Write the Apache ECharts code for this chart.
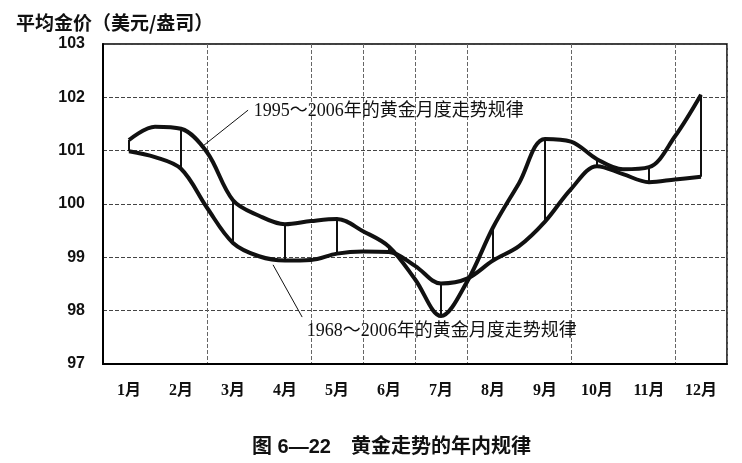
<!DOCTYPE html>
<html>
<head>
    <meta charset="utf-8">
    <script src="https://cdn.jsdelivr.net/npm/echarts@6/dist/echarts.min.js"></script>
    <style>html, body {margin: 0; padding: 0; background: #fff;}</style>
</head>
<body>
<div id="main" style="width: 742px;height:463px;"></div>

<script>
    // 月份标签
    var months = ['1月', '2月', '3月', '4月', '5月', '6月', '7月', '8月', '9月', '10月', '11月', '12月'];
    // 读数位置（1 = 1月中间），每半个月读一次
    var xPos = [1, 1.5, 2, 2.5, 3, 3.5, 4, 4.5, 5, 5.5, 6, 6.5, 7, 7.5, 8, 8.5, 9, 9.5, 10, 10.5, 11, 11.5, 12];
    // 1995~2006年
    var recent = [101.2, 101.45, 101.41, 100.97, 100.07, 99.78, 99.62, 99.68, 99.72, 99.49, 99.2, 98.59,
        97.9, 98.54, 99.56, 100.39, 101.22, 101.17, 100.84, 100.65, 100.69, 101.27, 102.05];
    // 1968~2006年
    var longTerm = [100.99, 100.88, 100.66, 99.93, 99.27, 99.02, 98.94, 98.95, 99.07, 99.11, 99.1, 98.84,
        98.51, 98.6, 98.94, 99.21, 99.67, 100.28, 100.71, 100.56, 100.41, 100.46, 100.51];
    var yTicks = [97, 98, 99, 100, 101, 102, 103];

    var recentData = [], longData = [], links = [];
    for (var i = 0; i < xPos.length; i++) {
        recentData.push([xPos[i], recent[i]]);
        longData.push([xPos[i], longTerm[i]]);
        if (xPos[i] % 1 === 0) {
            links.push([xPos[i], recent[i], longTerm[i]]);
        }
    }

    // 标注：文字起点和引线（数据坐标）
    var notes = [
        {text: '1995～2006年的黄金月度走势规律', at: [3.40, 101.73], from: [3.29, 101.76], to: [2.40, 101.07]},
        {text: '1968～2006年的黄金月度走势规律', at: [4.42, 97.62], from: [4.33, 97.88], to: [3.77, 98.86]}
    ];

    var font = "'Liberation Serif','Noto Sans CJK SC'";
    var gridOn = [2, 4, 5, 6, 7, 9, 11];

    var myChart = echarts.init(document.getElementById('main'));
    var option = {
        animation: false,
        title: [{
            text: '平均金价（美元/盎司）',
            left: 11,
            top: 8,
            textStyle: {fontSize: 19, fontWeight: 'bold', color: '#111', fontFamily: 'Noto Sans CJK SC'}
        }, {
            text: '图 6—22　黄金走势的年内规律',
            left: 247,
            top: 432,
            textStyle: {fontSize: 20, fontWeight: 'bold', color: '#111', fontFamily: "'Liberation Sans','Noto Sans CJK SC'"}
        }],
        grid: {left: 103, top: 44, width: 624, height: 320, show: true, borderColor: '#000', borderWidth: 1.5},
        xAxis: [{
            type: 'category',
            data: months,
            boundaryGap: true,
            axisLine: {lineStyle: {color: '#000', width: 2}},
            axisTick: {inside: true, length: 4, lineStyle: {color: '#000', width: 1.5}},
            axisLabel: {fontSize: 16, fontWeight: 'bold', color: '#111', margin: 19, fontFamily: font},
            splitLine: {
                show: true,
                interval: function (index) {
                    return gridOn.indexOf(index) >= 0;
                },
                lineStyle: {type: 'dashed', color: '#666', width: 1}
            }
        }, {
            type: 'value',
            min: 0.5,
            max: 12.5,
            show: false
        }],
        yAxis: {
            type: 'value',
            min: yTicks[0],
            max: yTicks[yTicks.length - 1],
            interval: 1,
            axisLine: {show: true, lineStyle: {color: '#000', width: 2}},
            axisTick: {show: false},
            axisLabel: {fontSize: 16, fontWeight: 'bold', color: '#111', margin: 18, fontFamily: 'Liberation Sans'},
            splitLine: {lineStyle: {type: 'dashed', color: '#444', width: 1}}
        },
        series: [
            {
                name: '1995～2006年',
                type: 'line',
                xAxisIndex: 1,
                data: recentData,
                smooth: 0.35,
                symbol: 'none',
                lineStyle: {color: '#111', width: 4}
            },
            {
                name: '1968～2006年',
                type: 'line',
                xAxisIndex: 1,
                data: longData,
                smooth: 0.35,
                symbol: 'none',
                lineStyle: {color: '#111', width: 4}
            },
            {
                // 每月竖线
                type: 'custom',
                xAxisIndex: 1,
                data: links,
                renderItem: function (params, api) {
                    var p1 = api.coord([api.value(0), api.value(1)]);
                    var p2 = api.coord([api.value(0), api.value(2)]);
                    return {
                        type: 'line',
                        shape: {x1: p1[0], y1: p1[1], x2: p2[0], y2: p2[1]},
                        style: {stroke: '#111', lineWidth: 2}
                    };
                }
            },
            {
                // 标注
                type: 'custom',
                xAxisIndex: 1,
                clip: false,
                data: notes.map(function (n) { return [n.at[0], n.at[1]]; }),
                renderItem: function (params, api) {
                    var n = notes[params.dataIndex];
                    var a = api.coord(n.at), f = api.coord(n.from), t = api.coord(n.to);
                    return {
                        type: 'group',
                        children: [{
                            type: 'line',
                            shape: {x1: f[0], y1: f[1], x2: t[0], y2: t[1]},
                            style: {stroke: '#111', lineWidth: 1}
                        }, {
                            type: 'text',
                            x: a[0],
                            y: a[1],
                            style: {
                                text: n.text, fill: '#111', font: '18px ' + font,
                                textAlign: 'left', textVerticalAlign: 'middle'
                            }
                        }]
                    };
                }
            }
        ]
    };
    myChart.setOption(option);
</script>
</body>
</html>
